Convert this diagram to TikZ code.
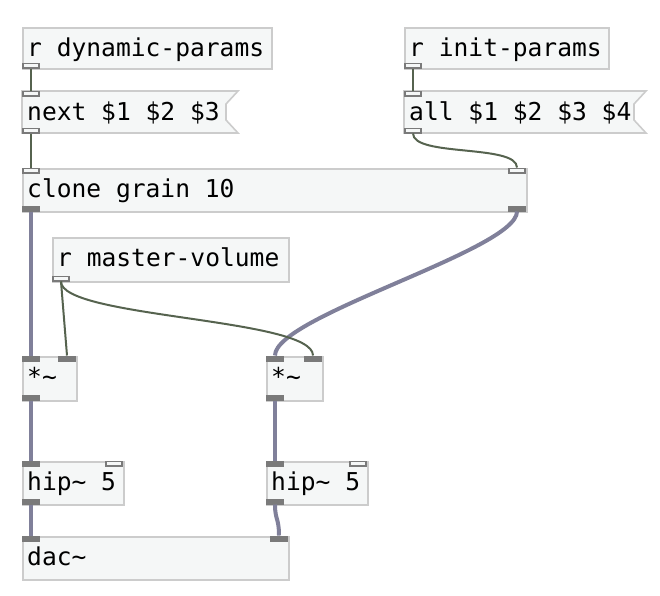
\documentclass[tikz,border=0pt]{standalone}
\usepackage{fontspec}
\newfontfamily\pdfont{DejaVu Sans Mono}
\definecolor{boxfill}{HTML}{F5F7F7}
\definecolor{boxline}{HTML}{CCCCCC}
\definecolor{iofill}{HTML}{7A7A7A}
\definecolor{sigcord}{HTML}{80809A}
\definecolor{ctlcord}{HTML}{56634F}
\tikzset{
  obj/.style={draw=boxline, fill=boxfill, line width=1.6pt, inner sep=0pt, anchor=north west},
  txt/.style={anchor=base west, inner sep=0pt, font=\pdfont\fontsize{24.6}{28}\selectfont, text=black},
  ctlio/.style={draw=iofill, fill=boxfill, line width=1.6pt, inner sep=0pt, minimum width=16.5pt, minimum height=4.4pt},
  sigio/.style={draw=iofill, fill=iofill, line width=1.6pt, inner sep=0pt, minimum width=16.5pt, minimum height=4.4pt},
  ctlc/.style={draw=ctlcord, line width=2pt},
  sigc/.style={draw=sigcord, line width=4pt},
}
\newcommand\pdobj[6]{%
  \node[obj, minimum width={#4-#2}, minimum height={#5-#3}] (#1) at (#2,#3) {};
  \node[txt] (#1-t) at (#2+5,#3+29.5) {#6};}
\newcommand\pdmsg[6]{%
  \draw[draw=boxline, fill=boxfill, line width=1.6pt] (#2,#3) -- (#4,#3) -- (#4-12,#3+13) -- (#4-12,#5-13) -- (#4,#5) -- (#2,#5) -- cycle;
  \node[inner sep=0pt, anchor=north west, minimum width={#4-#2}, minimum height={#5-#3}] (#1) at (#2,#3) {};
  \node[txt] (#1-t) at (#2+5,#3+29.5) {#6};}
\begin{document}
\begin{tikzpicture}[x=1pt,y=-1pt]
\useasboundingbox (0,0) rectangle (660,595);
% boxes
\pdobj{dyn}{22}{27}{271}{68}{r dynamic-params}
\pdmsg{next}{22}{91}{238}{133}{next \$1 \$2 \$3}
\pdobj{init}{404}{27}{608}{68}{r init-params}
\pdmsg{all}{404}{91}{646}{133}{all \$1 \$2 \$3 \$4}
\pdobj{clone}{22}{168}{526}{211}{clone grain 10}
\pdobj{mv}{52}{237}{288}{281}{r master-volume}
\pdobj{mulL}{22}{356}{76}{400}{*\char`\~}
\pdobj{mulR}{266}{356}{322}{400}{*\char`\~}
\pdobj{hipL}{22}{461}{123}{504}{hip\char`\~{} 5}
\pdobj{hipR}{266}{461}{367}{504}{hip\char`\~{} 5}
\pdobj{dac}{22}{536}{288}{579}{dac\char`\~}
% iolets
\node[ctlio] (dyn-o) at (31,65.5) {};
\node[ctlio] (next-i) at (31,93.5) {};
\node[ctlio] (next-o) at (31,130.5) {};
\node[ctlio] (init-o) at (413,65.5) {};
\node[ctlio] (all-i) at (413,93.5) {};
\node[ctlio] (all-o) at (413,130.5) {};
\node[ctlio] (clone-i0) at (31,170.5) {};
\node[ctlio] (clone-i1) at (517,170.5) {};
\node[sigio] (clone-o0) at (31,208.5) {};
\node[sigio] (clone-o1) at (517,208.5) {};
\node[ctlio] (mv-o) at (61,278.5) {};
\node[sigio] (mulL-i0) at (31,358.5) {};
\node[sigio] (mulL-i1) at (67,358.5) {};
\node[sigio] (mulL-o) at (31,397.5) {};
\node[sigio] (mulR-i0) at (275,358.5) {};
\node[sigio] (mulR-i1) at (313,358.5) {};
\node[sigio] (mulR-o) at (275,397.5) {};
\node[sigio] (hipL-i0) at (31,463.5) {};
\node[ctlio] (hipL-i1) at (114,463.5) {};
\node[sigio] (hipL-o) at (31,501.5) {};
\node[sigio] (hipR-i0) at (275,463.5) {};
\node[ctlio] (hipR-i1) at (358,463.5) {};
\node[sigio] (hipR-o) at (275,501.5) {};
\node[sigio] (dac-i0) at (31,538.5) {};
\node[sigio] (dac-i1) at (279,538.5) {};
% cords
\draw[ctlc] (dyn-o.south) -- (next-i.north);
\draw[ctlc] (next-o.south) -- (clone-i0.north);
\draw[ctlc] (init-o.south) -- (all-i.north);
\draw[ctlc] (all-o.south) .. controls (413,157) and (517,144) .. (clone-i1.north);
\draw[sigc] (clone-o0.south) -- (mulL-i0.north);
\draw[sigc] (clone-o1.south) .. controls (517,250) and (275,316) .. (mulR-i0.north);
\draw[ctlc] (mv-o.south) -- (mulL-i1.north);
\draw[ctlc] (mv-o.south) .. controls (61,318) and (313,318) .. (mulR-i1.north);
\draw[sigc] (mulL-o.south) -- (hipL-i0.north);
\draw[sigc] (mulR-o.south) -- (hipR-i0.north);
\draw[sigc] (hipL-o.south) -- (dac-i0.north);
\draw[sigc] (hipR-o.south) .. controls (275,520) and (279,518) .. (dac-i1.north);
\end{tikzpicture}
\end{document}
